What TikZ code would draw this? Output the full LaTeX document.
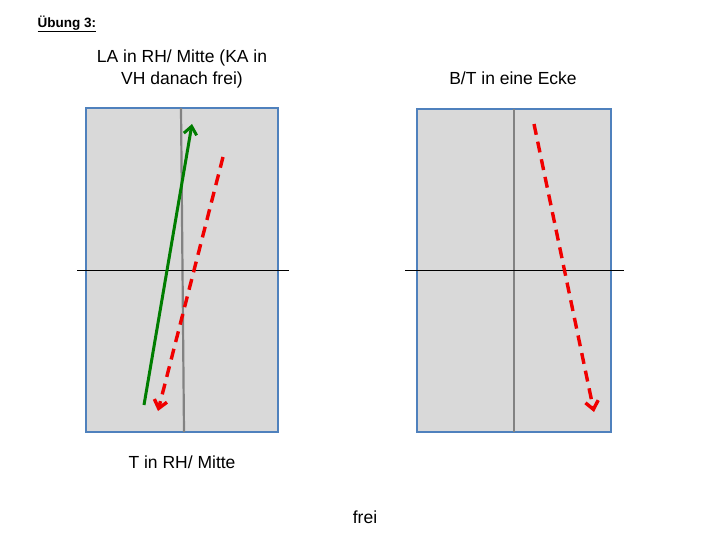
\documentclass[tikz,border=0pt]{standalone}
\usepackage{fontspec}
\setmainfont{Liberation Sans}
\usetikzlibrary{arrows.meta,positioning}

\definecolor{fieldgray}{RGB}{217,217,217}
\definecolor{fieldblue}{RGB}{79,129,189}
\definecolor{linegray}{RGB}{130,130,130}
\definecolor{runred}{RGB}{240,0,0}
\definecolor{rungreen}{RGB}{0,125,0}

\tikzset{
  field/.style={draw=fieldblue,fill=fieldgray,line width=1.8pt},
  midline/.style={draw=linegray,line width=2.2pt},
  crossline/.style={draw=black,line width=1.8pt},
  run/.style={rungreen,line width=3pt,-{Straight Barb[length=8pt,width=13pt]}},
  pass/.style={runred,line width=3.4pt,dash pattern=on 11pt off 7pt,-{Straight Barb[length=8pt,width=13pt]}},
  caption/.style={align=center,font=\fontsize{17.5}{22}\selectfont}
}

\begin{document}
\begin{tikzpicture}[x=1pt,y=-1pt]
                \useasboundingbox (0,0) rectangle (720,540);

                % Title
                \node[anchor=west,font=\fontsize{13.5}{15}\selectfont\bfseries] (title) at (34,24) {\underline{Übung 3:}};

                % Left field
                \draw[field] (86,108) rectangle (278,432);
                \coordinate (lmidtop) at (181,108);
                \coordinate (lmidbot) at (184,432);
                \draw[midline] (lmidtop) -- (lmidbot);
                \coordinate (lcrossl) at (77,270.5);
                \coordinate (lcrossr) at (289,270.5);
                \draw[crossline] (lcrossl) -- (lcrossr);

                % Left runs
                \coordinate (lgstart) at (144,405);
                \coordinate (lgend) at (192,124);
                \draw[run] (lgstart) -- (lgend);
                \coordinate (lrstart) at (223,157);
                \coordinate (lrend) at (158,411);
                \draw[pass] (lrstart) -- (lrend);

                % Right field
                \draw[field] (417,109) rectangle (611,432);
                \coordinate (rmidtop) at (514,109);
                \coordinate (rmidbot) at (514,432);
                \draw[midline] (rmidtop) -- (rmidbot);
                \coordinate (rcrossl) at (405,270.5);
                \coordinate (rcrossr) at (624,270.5);
                \draw[crossline] (rcrossl) -- (rcrossr);

                % Right run
                \coordinate (rrstart) at (534,124);
                \coordinate (rrend) at (594,412);
                \draw[pass] (rrstart) -- (rrend);

                % Captions
                \node[caption] (ltop) at (182,69) {LA in RH/ Mitte (KA in\\VH danach frei)};
                \node[caption] (rtop) at (513,78) {B/T in eine Ecke};
                \node[caption] (lbot) at (182,462) {T in RH/ Mitte};
                \node[caption] (frei) at (365,517) {frei};

            \end{tikzpicture}
\end{document}
